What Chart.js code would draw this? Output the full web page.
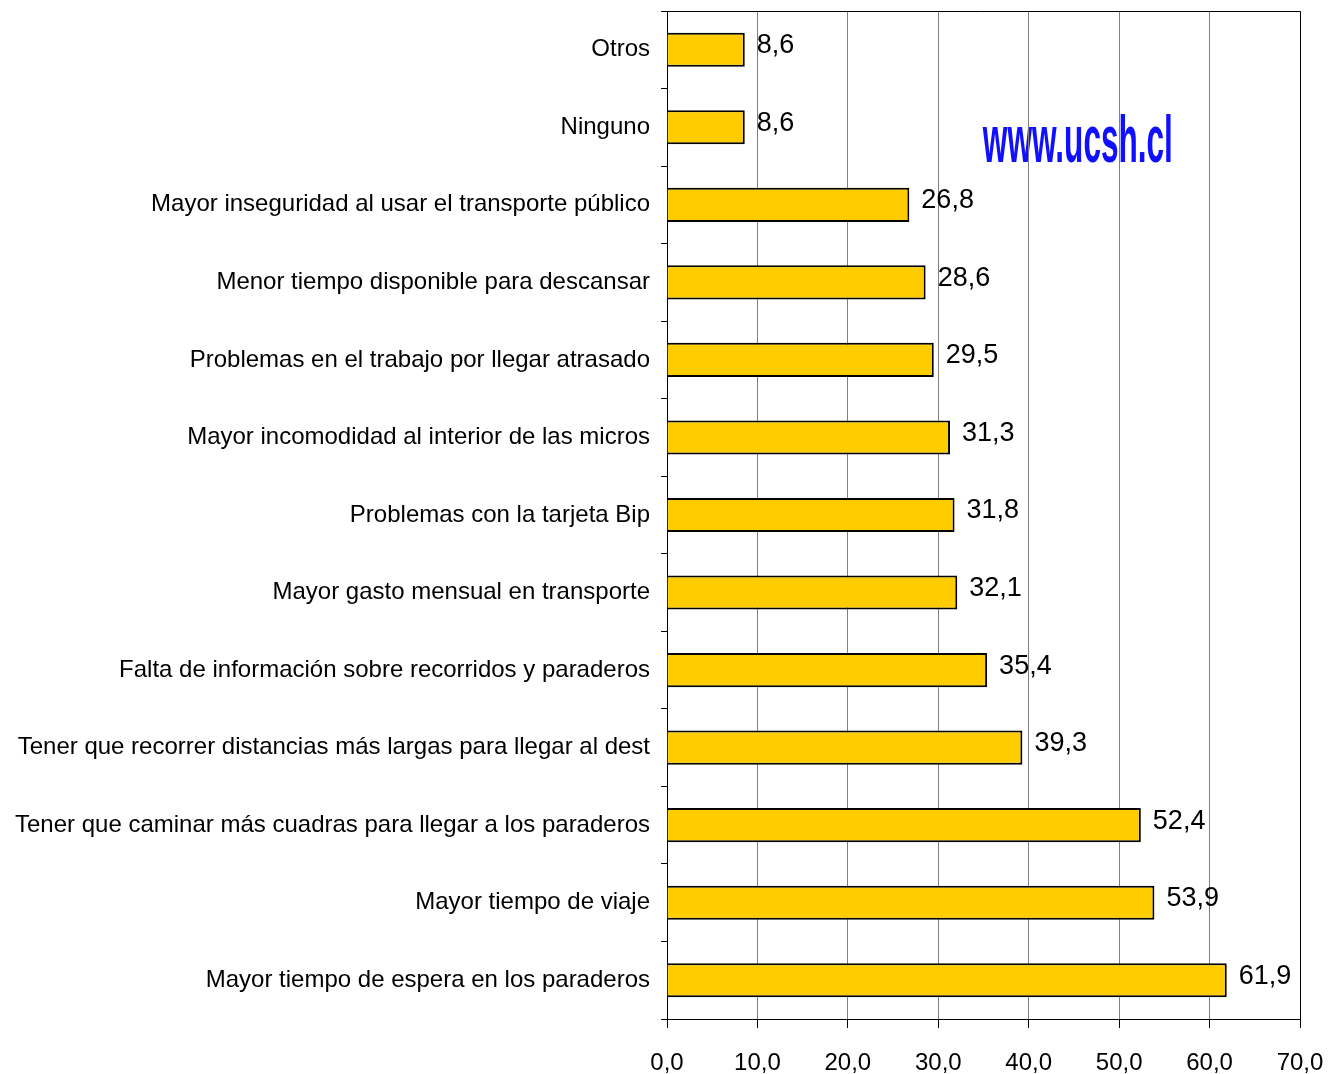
<!DOCTYPE html>
<html>
<head>
<meta charset="utf-8">
<script src="https://cdn.jsdelivr.net/npm/chart.js@4"></script>
<style>
  html, body { margin: 0; padding: 0; background: #fff; }
  #wrap { width: 1329px; height: 1074px; position: relative; }
</style>
</head>
<body>
<div id="wrap"><canvas id="chart"></canvas></div>
<script>
const categories = [
  'Otros',
  'Ninguno',
  'Mayor inseguridad al usar el transporte público',
  'Menor tiempo disponible para descansar',
  'Problemas en el trabajo por llegar atrasado',
  'Mayor incomodidad al interior de las micros',
  'Problemas con la tarjeta Bip',
  'Mayor gasto mensual en transporte',
  'Falta de información sobre recorridos y paraderos',
  'Tener que recorrer distancias más largas para llegar al dest',
  'Tener que caminar más cuadras para llegar a los paraderos',
  'Mayor tiempo de viaje',
  'Mayor tiempo de espera en los paraderos'
];
const percentages = [8.6, 8.6, 26.8, 28.6, 29.5, 31.3, 31.8, 32.1, 35.4, 39.3, 52.4, 53.9, 61.9];
const xTicks = [0, 10, 20, 30, 40, 50, 60, 70];
const watermark = 'www.ucsh.cl';

const fmt = v => Number(v).toFixed(1).replace('.', ',');
const FONT = '"Liberation Sans", Arial, sans-serif';

const decorations = {
  id: 'decorations',
  beforeDraw(chart) {
    const ctx = chart.ctx;
    const area = chart.chartArea;
    ctx.save();
    ctx.fillStyle = '#fff';
    ctx.fillRect(0, 0, chart.width, chart.height);
    // watermark
    ctx.font = 'bold 66px "Liberation Sans Narrow", "Liberation Sans", Arial';
    const w = ctx.measureText(watermark).width;
    const targetW = 190;
    const left = area.left + (area.right - area.left) * 0.499;
    ctx.translate(left, area.top + 151);
    ctx.scale(targetW / w, 1);
    ctx.fillStyle = '#1010ff';
    ctx.textBaseline = 'alphabetic';
    ctx.fillText(watermark, 0, 0);
    ctx.restore();
  },
  afterDatasetsDraw(chart) {
    const ctx = chart.ctx;
    const area = chart.chartArea;
    const meta = chart.getDatasetMeta(0);
    ctx.save();
    ctx.font = '27px ' + FONT;
    ctx.fillStyle = '#000';
    ctx.textBaseline = 'middle';
    ctx.textAlign = 'left';
    meta.data.forEach((bar, i) => {
      ctx.fillText(fmt(percentages[i]), bar.x + 12, bar.y - 4);
    });
    // plot frame
    ctx.strokeStyle = '#000';
    ctx.lineWidth = 1;
    ctx.beginPath();
    ctx.moveTo(area.left - 6, area.top + 0.5);
    ctx.lineTo(area.right + 0.5, area.top + 0.5);
    ctx.lineTo(area.right + 0.5, area.bottom);
    ctx.stroke();
    ctx.restore();
  }
};

new Chart(document.getElementById('chart'), {
  type: 'bar',
  data: {
    labels: categories,
    datasets: [{
      data: percentages,
      backgroundColor: '#ffcc00',
      borderColor: '#000',
      borderWidth: 2,
      barPercentage: 0.44,
      categoryPercentage: 1
    }]
  },
  options: {
    indexAxis: 'y',
    responsive: true,
    maintainAspectRatio: false,
    animation: false,
    layout: { padding: { top: 11, right: 29, bottom: 0, left: 0 } },
    plugins: {
      legend: { display: false },
      tooltip: { enabled: false }
    },
    scales: {
      x: {
        min: 0,
        max: 70,
        afterBuildTicks: axis => { axis.ticks = xTicks.map(v => ({ value: v })); },
        afterFit: axis => {
          axis.height = 55;
          axis.paddingLeft = 0;
          axis.paddingRight = 0;
        },
        grid: { color: '#808080', tickColor: '#000', tickLength: 9, lineWidth: 1 },
        border: { color: '#000', width: 1 },
        ticks: {
          color: '#000',
          padding: 21,
          font: { family: FONT, size: 24 },
          callback: v => fmt(v)
        }
      },
      y: {
        afterFit: axis => {
          axis.width = 667;
          axis.paddingTop = 0;
          axis.paddingBottom = 0;
        },
        grid: { drawOnChartArea: false, offset: true, tickLength: 6, tickColor: '#000' },
        border: { color: '#000', width: 1 },
        ticks: {
          color: '#000',
          padding: 11,
          font: { family: FONT, size: 24 }
        }
      }
    }
  },
  plugins: [decorations]
});
</script>
</body>
</html>
